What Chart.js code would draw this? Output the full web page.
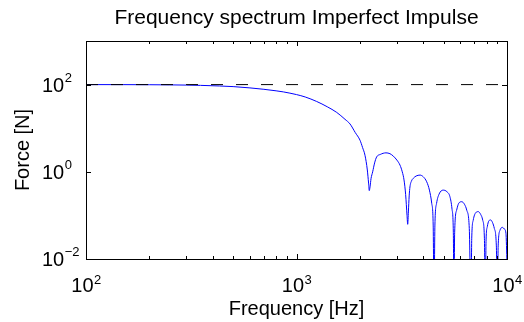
<!DOCTYPE html>
<html lang="en">
<head>
  <meta charset="UTF-8" />
  <title>Frequency spectrum Imperfect Impulse</title>
  <script src="https://cdn.jsdelivr.net/npm/chart.js"></script>
  <style>
    html, body {
      margin: 0;
      padding: 0;
      background: #fff;
    }
    #wrap {
      width: 524px;
      height: 322px;
    }
  </style>
</head>
<body>
  <div id="wrap"><canvas id="spectrumChart" width="524" height="322"></canvas></div>

  <script>
    // values
    const freqHz = [
      100, 150, 200, 250, 300, 350, 430, 500, 601, 700, 800, 866, 1000, 1100, 1247, 1400,
      1553, 1700, 1796, 1900, 2003, 2060, 2115, 2170, 2200, 2217, 2235, 2260, 2301, 2350,
      2404, 2500, 2661, 2780, 2884, 3000, 3103, 3180, 3242, 3300, 3350, 3375, 3400, 3430,
      3459, 3520, 3589, 3700, 3864, 4000, 4155, 4280, 4389, 4460, 4500, 4545, 4630, 4760,
      4980, 5180, 5355, 5480, 5560, 5597, 5640, 5767, 5900, 6092, 6280, 6435, 6620, 6742,
      6800, 6915, 7100, 7304, 7500, 7664, 7810, 7887, 7950, 8061, 8200, 8365, 8540, 8702,
      8900, 8995, 9080, 9268, 9400, 9540, 9700, 9885, 10000
    ];
    const forceN = [
      100, 99.8, 99.3, 98.5, 97.5, 96, 93, 90, 84, 78, 72, 68, 59, 52, 41, 31,
      23, 16, 12.5, 8, 5.3, 3.6, 2.4, 1.1, 0.55, 0.37, 0.45, 0.7, 1.0, 1.6,
      2.2, 2.5, 2.72, 2.6, 2.29, 1.85, 1.42, 1.0, 0.65, 0.3, 0.1, 0.0625, 0.12, 0.28,
      0.45, 0.62, 0.71, 0.8, 0.84, 0.77, 0.59, 0.38, 0.19, 0.06, 0.001, 0.06, 0.19, 0.31,
      0.38, 0.35, 0.27, 0.14, 0.04, 0.001, 0.04, 0.133, 0.19, 0.206, 0.18, 0.133, 0.05, 0.001,
      0.03, 0.0786, 0.115, 0.122, 0.105, 0.0786, 0.03, 0.001, 0.025, 0.055, 0.075, 0.0786, 0.068, 0.0507,
      0.02, 0.001, 0.02, 0.046, 0.052, 0.053, 0.049, 0.039, 0.008
    ];
    const idealForce = 100;
    const xRange = [100, 10000];
    const yRange = [0.01, 1000];
    const xMajorTicks = [100, 1000, 10000];
    const xMinorTicks = [200, 300, 400, 500, 600, 700, 800, 900, 2000, 3000, 4000, 5000, 6000, 7000, 8000, 9000];
    const yTicks = [0.01, 1, 100];
    const xTickExp = ['2', '3', '4'];
    const yTickExp = ['\u22122', '0', '2'];

    const FONT = '"Liberation Sans", Arial, sans-serif';

    // frame, inward ticks, 10^n labels and titles (MATLAB look)
    const matlabAxes = {
      id: 'matlabAxes',
      afterDraw(chart) {
        const ctx = chart.ctx;
        const a = chart.chartArea;
        const xs = chart.scales.x;
        const ys = chart.scales.y;
        ctx.save();
        ctx.strokeStyle = '#000';
        ctx.lineWidth = 1;
        ctx.strokeRect(Math.round(a.left) + 0.5, Math.round(a.top) + 0.5,
          Math.round(a.right - a.left), Math.round(a.bottom - a.top));

        ctx.beginPath();
        const xTick = (v, len) => {
          const px = Math.round(xs.getPixelForValue(v)) + 0.5;
          ctx.moveTo(px, a.bottom); ctx.lineTo(px, a.bottom - len);
          ctx.moveTo(px, a.top); ctx.lineTo(px, a.top + len);
        };
        xMinorTicks.forEach(v => xTick(v, 3));
        xMajorTicks.forEach(v => xTick(v, 5));
        yTicks.forEach(v => {
          const py = Math.round(ys.getPixelForValue(v)) + 0.5;
          ctx.moveTo(a.left, py); ctx.lineTo(a.left + 5, py);
          ctx.moveTo(a.right, py); ctx.lineTo(a.right - 5, py);
        });
        ctx.stroke();

        ctx.fillStyle = '#000';
        ctx.textBaseline = 'alphabetic';
        ctx.textAlign = 'left';
        const big = '20px ' + FONT;
        const small = '13px ' + FONT;

        xMajorTicks.forEach((v, i) => {
          ctx.font = big;
          const w1 = ctx.measureText('10').width;
          ctx.font = small;
          const w2 = ctx.measureText(xTickExp[i]).width;
          const x0 = xs.getPixelForValue(v) - (w1 + w2) / 2;
          ctx.font = big;
          ctx.fillText('10', x0, 292);
          ctx.font = small;
          ctx.fillText(xTickExp[i], x0 + w1 + 0.5, 284);
        });

        yTicks.forEach((v, i) => {
          const py = ys.getPixelForValue(v);
          ctx.font = big;
          const w1 = ctx.measureText('10').width;
          ctx.fillText('10', 42, py + 7);
          ctx.font = small;
          ctx.fillText(yTickExp[i], 42 + w1 + 0.5, py - 3);
        });

        ctx.textAlign = 'center';
        ctx.font = '21px ' + FONT;
        ctx.fillText('Frequency spectrum Imperfect Impulse', (a.left + a.right) / 2, 24);
        ctx.font = big;
        ctx.fillText('Frequency [Hz]', (a.left + a.right) / 2, 315);

        ctx.translate(29, (a.top + a.bottom) / 2);
        ctx.rotate(-Math.PI / 2);
        ctx.fillText('Force [N]', 0, 0);
        ctx.restore();
      }
    };

    const spectrum = freqHz.map((f, i) => ({ x: f, y: forceN[i] }));
    const idealLine = xRange.map(f => ({ x: f, y: idealForce }));

    new Chart(document.getElementById('spectrumChart').getContext('2d'), {
      type: 'scatter',
      data: {
        datasets: [
          {
            label: 'ideal',
            data: idealLine,
            showLine: true,
            borderColor: '#000',
            borderWidth: 1,
            borderDash: [12, 13],
            pointRadius: 0
          },
          {
            label: 'spectrum',
            data: spectrum,
            showLine: true,
            borderColor: '#0000ff',
            borderWidth: 1,
            pointRadius: 0,
            cubicInterpolationMode: 'monotone'
          }
        ]
      },
      options: {
        responsive: false,
        animation: false,
        layout: { padding: { left: 86, right: 17, top: 41, bottom: 63 } },
        plugins: {
          legend: { display: false },
          tooltip: { enabled: false },
          title: { display: false }
        },
        scales: {
          x: { type: 'logarithmic', min: xRange[0], max: xRange[1], display: false },
          y: { type: 'logarithmic', min: yRange[0], max: yRange[1], display: false }
        }
      },
      plugins: [matlabAxes]
    });
  </script>
</body>
</html>
